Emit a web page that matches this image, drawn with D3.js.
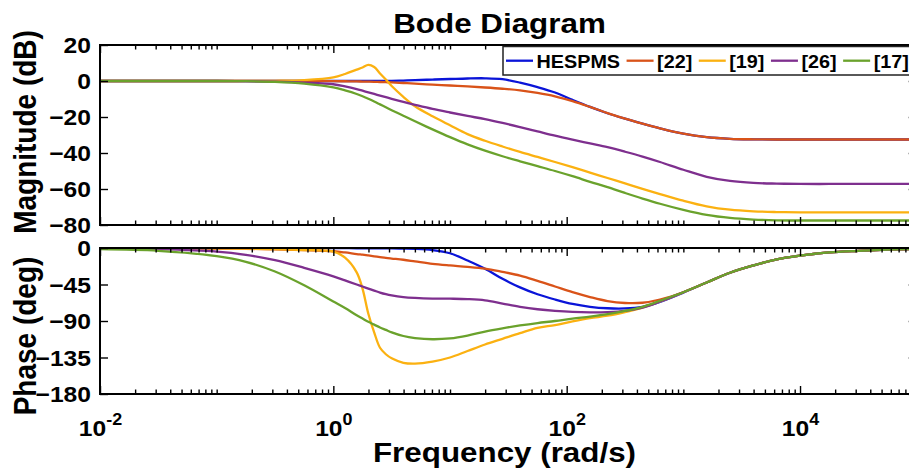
<!DOCTYPE html>
<html><head><meta charset="utf-8">
<script src="https://cdn.jsdelivr.net/npm/d3@7/dist/d3.min.js"></script>
<style>html,body{margin:0;padding:0;background:#fff;overflow:hidden}</style>
</head><body><svg id="c" width="909" height="470"></svg>
<script>
// ---------- data ----------
const freqExp = [-2,-1.5,-1,-0.75,-0.5,-0.25,0,0.1,0.2,0.25,0.3,0.35,0.4,0.45,0.5,0.6,0.7,0.85,1,1.15,1.3,1.45,1.6,1.75,1.9,2.05,2.2,2.35,2.5,2.65,2.8,3,3.2,3.4,3.6,3.8,4,4.25,4.5,4.75,5];

const seriesNames = ["HESPMS","[22]","[19]","[26]","[17]"];
const seriesColors = ["#0a14d8","#d95319","#fbb111","#7e2f8e","#6aa22c"];

const magHESPMS = [0,0,0,0,0,0,0, 0,0,0,0,0, 0,0.05,0.1, 0.25,0.45,0.8, 1.1,1.4,1.5,1.0, -0.9,-3.4,-6.4,-10.5, -14.4,-17.9,-20.9,-23.7, -26.3,-29.3,-31.2,-32.1, -32.4,-32.5,-32.5,-32.5, -32.5,-32.5,-32.5];
const mag22 = [0,0,0,0,0,0,-0.1, -0.15,-0.25,-0.3,-0.35,-0.45, -0.55,-0.65,-0.8, -1.1,-1.5,-2.0, -2.5,-3.0,-3.6,-4.3, -5.2,-6.6,-8.5,-11.2, -14.4,-17.8,-20.9,-23.7, -26.3,-29.3,-31.2,-32.1, -32.4,-32.5,-32.5,-32.5, -32.5,-32.5,-32.5];
const mag19 = [0,0,0,0.02,0.1,0.5,2.0, 3.9,6.3,7.5,9.0,7.8, 4.2,0.8,-2.8, -8.8,-14.0,-19.6, -24.6,-29.5,-33.2,-36.4, -39.4,-42.2,-45.0,-47.9, -50.9,-53.9,-56.9,-59.9, -62.8,-66.5,-69.6,-71.5, -72.4,-72.8,-73,-73, -73,-73,-73];
const mag26 = [0,0,0,-0.1,-0.4,-0.9,-1.8, -3.0,-4.5,-5.4,-6.3,-7.2, -8.1,-9.0,-9.9, -11.6,-13.2,-15.5, -17.5,-19.4,-21.2,-23.3, -25.6,-28.0,-30.4,-32.6, -34.7,-36.8,-39.3,-42.0, -45.0,-49.3,-53.2,-55.5, -56.6,-57.0,-57.2,-57.2, -57.2,-57.2,-57.2];
const mag17 = [0,0,0,-0.1,-0.5,-1.5,-3.6, -5.2,-7.2,-8.5,-9.9,-11.4, -13.0,-14.6,-16.2, -19.3,-22.4,-26.9, -31.2,-35.2,-38.7,-41.8, -44.6,-47.3,-50.0,-52.9, -56.0,-59.0,-62.2,-65.3, -68.2,-71.6,-74.4,-76.1, -77.0,-77.4,-77.5,-77.5, -77.5,-77.5,-77.5];

const phHESPMS = [0,0,0,0,0,-0.1,-0.2, -0.2,-0.3,-0.3,-0.3,-0.4, -0.4,-0.5,-0.5, -0.7,-1.0,-2.5, -6.5,-15.5,-25.5,-38, -48.5,-57,-63.5,-69, -72.5,-74.3,-74.5,-72.5, -66.5,-55,-42.5,-30.5, -21.5,-14,-9.5,-5.5, -3.5,-2,-1];
const ph22 = [0,-0.2,-0.6,-1.0,-1.6,-2.6,-4.0, -5.5,-7.5,-8.3,-9.2,-10.2, -11.2,-12.2,-13.0, -14.5,-16.5,-19.5, -21.5,-23.2,-25.5,-29.5, -34,-40.5,-47.5,-54.5, -60.5,-65.5,-67.8,-67.5, -63.5,-54.5,-42.5,-30.5, -21.5,-14,-9.5,-5.5, -3.5,-2,-1];
const ph19 = [0,0,-0.5,-0.8,-1.3,-2.5,-4.5, -12,-30,-50,-81,-104, -123,-131,-136, -141.5,-142.5,-140, -135,-127,-119,-112, -105,-98.5,-95,-90.5, -86.5,-83.5,-79,-73.5, -66,-54.5,-42.5,-30.5, -21.5,-14,-9.5,-5.5, -3.5,-2,-1];
const ph26 = [-0.5,-1.5,-4.5,-8.5,-15,-24.5,-35, -40,-45,-47.5,-50,-52.5, -55,-57,-58.5, -60.5,-61.5,-62.3, -62.5,-63,-64.5,-68.5, -72.5,-75.5,-77.5,-78.8, -79.3,-79,-77.5,-73.5, -66,-54.5,-42.5,-30.5, -21.5,-14,-9.5,-5.5, -3.5,-2,-1];
const ph17 = [-1.5,-3.5,-10,-17,-29,-46,-66, -74,-83,-87,-91,-94.5, -98,-101,-104, -108.5,-111,-112.5, -111.5,-108,-103,-99, -95.5,-92.5,-90,-87, -84.5,-81.5,-77.5,-72.5, -65,-54.5,-42.5,-30.5, -21.5,-14,-9.5,-5.5, -3.5,-2,-1];

const magSeries = [magHESPMS, mag22, mag19, mag26, mag17];
const phaseSeries = [phHESPMS, ph22, ph19, ph26, ph17];

const magTicks = [20,0,-20,-40,-60,-80];
const phaseTicks = [0,-45,-90,-135,-180];
const freqMajorExp = [-2,0,2,4];

const titleText = "Bode Diagram";
const xLabelText = "Frequency (rad/s)";
const magLabelText = "Magnitude (dB)";
const phaseLabelText = "Phase (deg)";

// ---------- layout ----------
const FONT = "'Liberation Sans', Arial, Helvetica, sans-serif";
const SX = 1.12;
const left = 100, right = 916.7;
const magTop = 45, magBot = 225, phTop = 248, phBot = 394;

const svg = d3.select("#c");
const x = d3.scaleLog().domain([1e-2, 1e5]).range([left, right]);
const yMag = d3.scaleLinear().domain([-80, 20]).range([magBot, magTop]);
const yPh = d3.scaleLinear().domain([-180, 0]).range([phBot, phTop]);

const minorTicks = [];
for (let d = -2; d < 5; d++) for (let k = 1; k <= 9; k++) {
  if (k === 1 && d % 2 === 0) continue;
  minorTicks.push(k * Math.pow(10, d));
}
const majorTicks = freqMajorExp.map(e => Math.pow(10, e));

const defs = svg.append("defs");
function clip(id, y0, y1) {
  defs.append("clipPath").attr("id", id).append("rect")
    .attr("x", left).attr("y", y0).attr("width", right - left).attr("height", y1 - y0);
}
clip("cm", magTop, magBot); clip("cp", phTop, phBot);

function panel(y, top, bot, ticks, series, clipId, withXLabels) {
  const g = svg.append("g");
  const line = d3.line().x((d, i) => x(Math.pow(10, freqExp[i]))).y(d => y(d)).curve(d3.curveCatmullRom.alpha(0.5));
  const lg = g.append("g").attr("clip-path", `url(#${clipId})`);
  series.forEach((s, i) => {
    lg.append("path").attr("d", line(s)).attr("fill", "none")
      .attr("stroke", seriesColors[i]).attr("stroke-width", 2.3).attr("stroke-linejoin", "round");
  });
  const ax = (gen, tx, ty) => {
    const a = g.append("g").attr("transform", `translate(${tx},${ty})`).call(gen);
    a.select(".domain").remove();
    a.selectAll("line").attr("stroke", "#000").attr("stroke-width", 1.4);
    return a;
  };
  const yl = ax(d3.axisLeft(y).tickValues(ticks).tickSize(-8).tickPadding(9), left, 0);
  yl.selectAll("text").attr("x", 0).attr("dy", "0.36em")
    .attr("transform", "translate(-9,0) scale(" + SX + ",1)")
    .attr("font-family", FONT).attr("font-weight", "bold").attr("font-size", 22).attr("fill", "#000");
  ax(d3.axisRight(y).tickValues(ticks).tickSize(-8).tickFormat(""), right, 0);
  ax(d3.axisTop(x).tickValues(majorTicks).tickSize(-8).tickFormat(""), 0, top);
  ax(d3.axisTop(x).tickValues(minorTicks).tickSize(-4.5).tickFormat(""), 0, top);
  const xb = ax(d3.axisBottom(x).tickValues(majorTicks).tickSize(-8).tickFormat(withXLabels ? (d => String(Math.round(Math.log10(d)))) : ""), 0, bot);
  ax(d3.axisBottom(x).tickValues(minorTicks).tickSize(-4.5).tickFormat(""), 0, bot);
  if (withXLabels) {
    xb.selectAll(".tick text").each(function () {
      const t = d3.select(this);
      const ex = t.text();
      t.text(null).attr("y", 0).attr("dy", null)
        .attr("transform", "translate(0,42) scale(" + SX + ",1)")
        .attr("font-family", FONT).attr("font-weight", "bold").attr("font-size", 22).attr("fill", "#000");
      t.append("tspan").text("10");
      t.append("tspan").attr("dy", -11).attr("font-size", 16).text(ex);
    });
  }
  g.append("rect").attr("x", left).attr("y", top).attr("width", right - left).attr("height", bot - top)
    .attr("fill", "none").attr("stroke", "#000").attr("stroke-width", 2);
  return g;
}

panel(yMag, magTop, magBot, magTicks, magSeries, "cm", false);
panel(yPh, phTop, phBot, phaseTicks, phaseSeries, "cp", true);

function label(txt, tx, ty, size, rot) {
  svg.append("text")
    .attr("transform", `translate(${tx},${ty}) scale(${SX},1)` + (rot ? " rotate(-90)" : ""))
    .attr("text-anchor", "middle").attr("font-family", FONT).attr("font-weight", "bold")
    .attr("font-size", size).attr("fill", "#000").text(txt);
}
label(titleText, 499.5, 33.3, 28, false);
label(xLabelText, 504.5, 462, 28, false);
label(magLabelText, 35.5, 132, 28, true);
label(phaseLabelText, 35.5, 336, 28, true);

const LSX = 1.1;
const lgG = svg.append("g");
const box = lgG.append("rect").attr("x", 503).attr("y", 46.5).attr("height", 28.5)
  .attr("fill", "#fff").attr("stroke", "#222").attr("stroke-width", 1.5);
let cx = 506;
const ly = 60.7;
seriesNames.forEach((n, i) => {
  lgG.append("line").attr("x1", cx).attr("x2", cx + 27).attr("y1", ly).attr("y2", ly)
    .attr("stroke", seriesColors[i]).attr("stroke-width", 2.3);
  cx += 30.5;
  const t = lgG.append("text").attr("transform", `translate(${cx},68) scale(${LSX},1)`)
    .attr("font-family", FONT).attr("font-weight", "bold").attr("font-size", 18).attr("fill", "#000").text(n);
  cx += t.node().getComputedTextLength() * LSX + 6.5;
});
box.attr("width", Math.max(cx - 503, 420));
</script></body></html>
